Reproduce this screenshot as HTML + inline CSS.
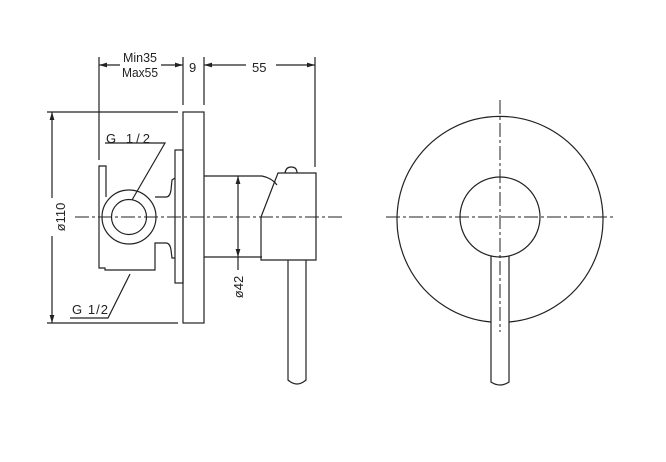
<!DOCTYPE html>
<html><head><meta charset="utf-8"><style>html,body{margin:0;padding:0;background:#fff}svg{display:block}</style></head><body>
<svg width="666" height="462" viewBox="0 0 666 462" xmlns="http://www.w3.org/2000/svg" fill="none" stroke="#222" stroke-width="1.2">
<defs><marker id="a" viewBox="0 0 10 6" refX="10" refY="3" markerWidth="8" markerHeight="4" orient="auto-start-reverse"><path d="M0,0L10,3L0,6z" fill="#222" stroke="none"/></marker></defs>
<line x1="99" y1="57" x2="99" y2="160"/>
<line x1="183" y1="57" x2="183" y2="105"/>
<line x1="204" y1="57" x2="204" y2="105"/>
<line x1="315" y1="57" x2="315" y2="167"/>
<line x1="99" y1="65" x2="120" y2="65" marker-start="url(#a)"/>
<line x1="161" y1="65" x2="183" y2="65" marker-end="url(#a)"/>
<line x1="204" y1="65" x2="246" y2="65" marker-start="url(#a)"/>
<line x1="276" y1="65" x2="315" y2="65" marker-end="url(#a)"/>
<g font-family="Liberation Sans, sans-serif" font-size="13" fill="#222" stroke="none">
<text x="123" y="62" textLength="34" lengthAdjust="spacingAndGlyphs">Min35</text>
<text x="122" y="77" textLength="36" lengthAdjust="spacingAndGlyphs">Max55</text>
<text x="189" y="72">9</text><text x="252" y="72">55</text>
<text x="106" y="143" textLength="44" lengthAdjust="spacing">G 1/2</text>
<text x="72" y="314" textLength="36" lengthAdjust="spacing">G 1/2</text>
<text transform="translate(65,217) rotate(-90)" text-anchor="middle">ø110</text>
<text transform="translate(243,287) rotate(-90)" text-anchor="middle">ø42</text>
</g>
<line x1="47" y1="112" x2="178" y2="112"/>
<line x1="47" y1="323" x2="178" y2="323"/>
<line x1="52" y1="112" x2="52" y2="198" marker-start="url(#a)"/>
<line x1="52" y1="236" x2="52" y2="323" marker-end="url(#a)"/>
<rect x="183" y="112" width="21" height="211"/>
<rect x="175" y="150" width="8" height="133"/>
<path d="M106,197 L106,166 L99,166 L99,268 L105,268 L105,270 L155,270 L155,243 L166,243 Q170,243 171,250 L172,258 L175,258"/>
<path d="M155,197 L166,197 Q170,197 171,190 L172,180 L175,178"/>
<circle cx="129" cy="217" r="27"/>
<circle cx="129" cy="217" r="17.5"/>
<polyline points="105,143 165,143 132,200"/>
<polyline points="70,318 108,318 130,274"/>
<path d="M204,176 L262,176 M204,257 L262,257"/>
<path d="M262,176 Q272,178 277,185"/>
<path d="M278,173 L316,173 L316,260 L261,260 L261,217 Z"/>
<path d="M285,173 Q286,167 291,167 Q297,167 297,173"/>
<path d="M288,260 L288,380 Q297,388 306,380 L306,260"/>
<line x1="238" y1="176" x2="238" y2="257" marker-start="url(#a)" marker-end="url(#a)"/>
<line x1="238" y1="257" x2="238" y2="270"/>
<line x1="75" y1="217" x2="345" y2="217" stroke-dasharray="14,3,3,3" stroke-width="1"/>
<path d="M491,322 A103,103 0 1 1 509,322"/>
<circle cx="500" cy="217" r="40"/>
<path d="M491,256 L491,382 Q500,388 509,382 L509,256"/>
<line x1="386" y1="217" x2="613" y2="217" stroke-dasharray="14,3,3,3" stroke-width="1"/>
<line x1="500" y1="100" x2="500" y2="332" stroke-dasharray="14,3,3,3" stroke-width="1"/>
</svg>
</body></html>
